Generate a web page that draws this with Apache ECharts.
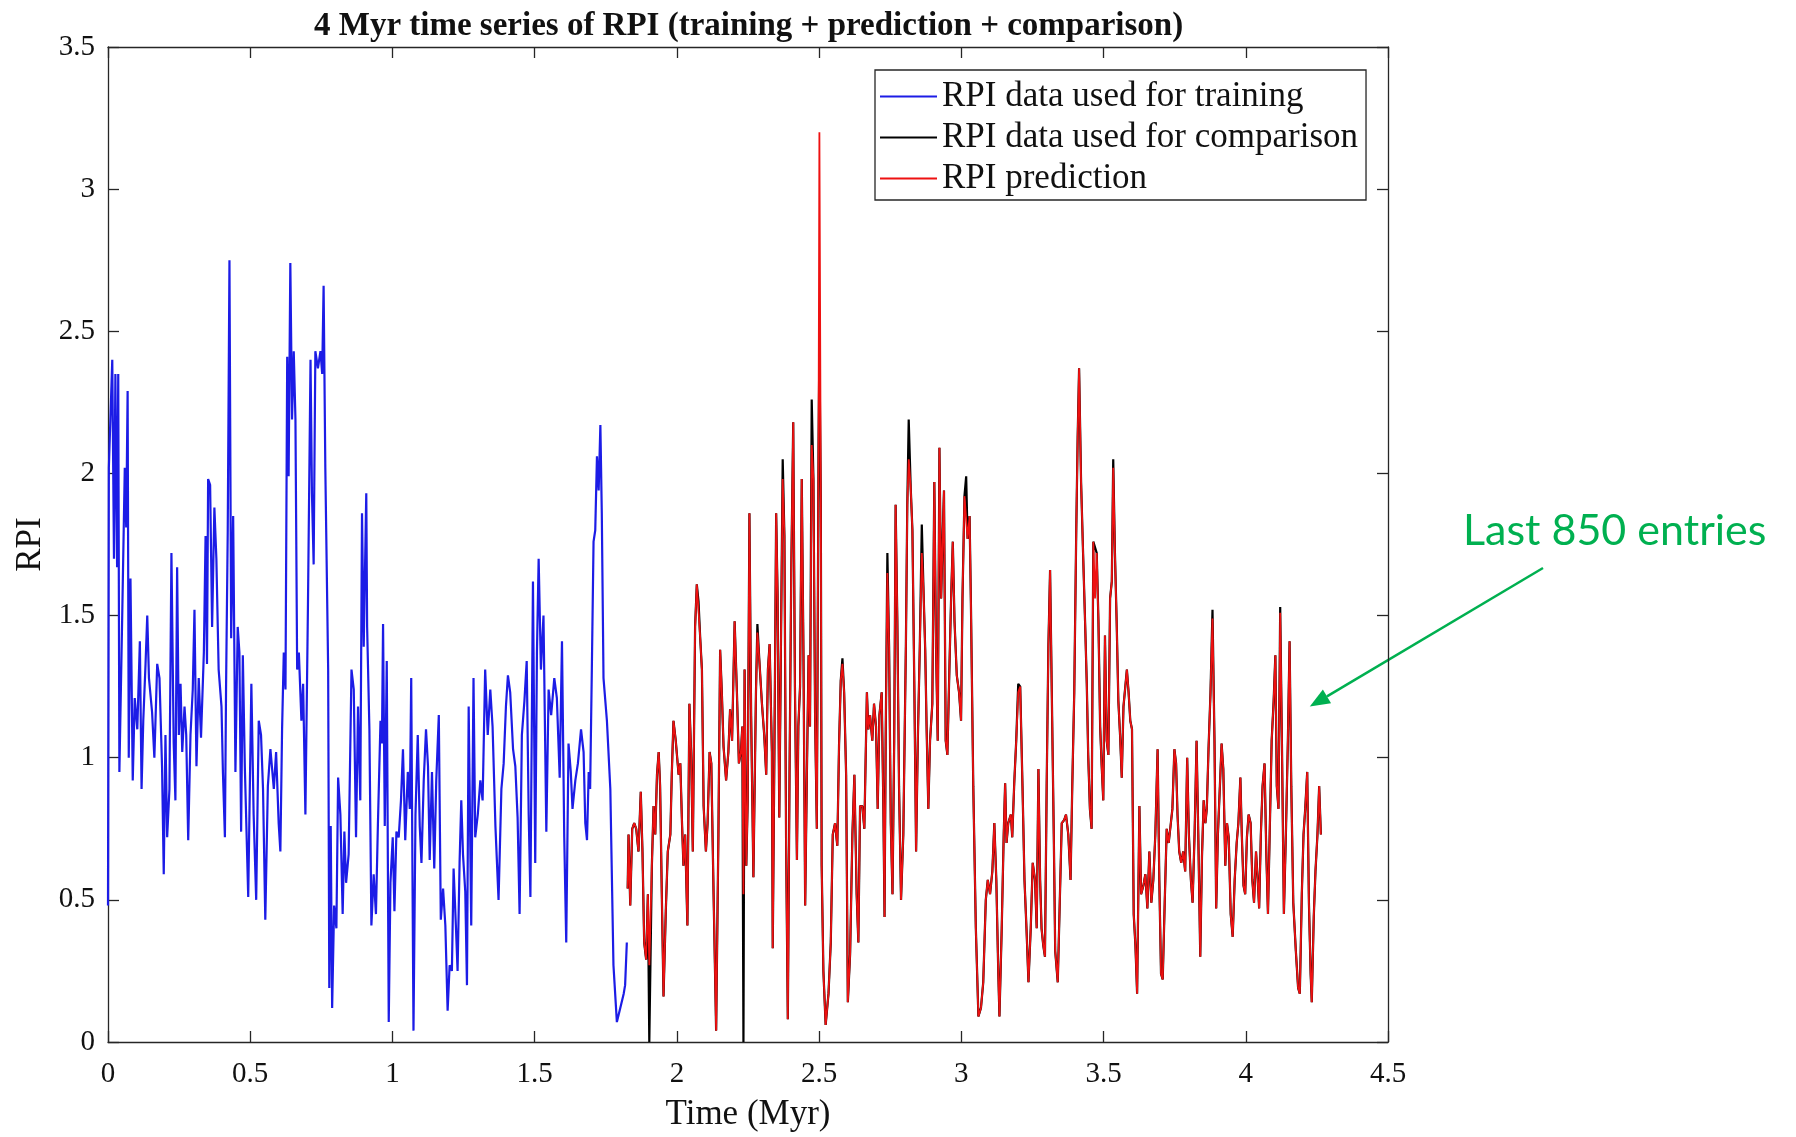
<!DOCTYPE html>
<html>
<head>
<meta charset="utf-8">
<title>4 Myr time series of RPI</title>
<script src="https://cdn.jsdelivr.net/npm/echarts@6.0.0/dist/echarts.min.js"></script>
<style>
  html, body { margin: 0; padding: 0; background: #fff; }
  #chart { width: 1796px; height: 1137px; }
</style>
</head>
<body>
<div id="chart"></div>
<script>
// axis ticks
const xTicks = [0, 0.5, 1, 1.5, 2, 2.5, 3, 3.5, 4, 4.5];
const yTicks = [0, 0.5, 1, 1.5, 2, 2.5, 3, 3.5];

const seriesNames = ['RPI data used for training', 'RPI data used for comparison', 'RPI prediction'];

// training part (blue), time in Myr
const trainTime = [
  0, 0.003, 0.015, 0.021, 0.026, 0.032, 0.036, 0.040, 0.050, 0.059,
  0.064, 0.069, 0.073, 0.079, 0.087, 0.094, 0.103, 0.112, 0.118, 0.124,
  0.132, 0.138, 0.144, 0.155, 0.163, 0.173, 0.181, 0.190, 0.196, 0.202,
  0.208, 0.216, 0.223, 0.231, 0.237, 0.243, 0.249, 0.255, 0.261, 0.269,
  0.275, 0.282, 0.290, 0.298, 0.304, 0.311, 0.319, 0.327, 0.337, 0.343,
  0.348, 0.352, 0.359, 0.366, 0.374, 0.381, 0.389, 0.399, 0.404, 0.411,
  0.415, 0.421, 0.427, 0.433, 0.440, 0.448, 0.456, 0.462, 0.468, 0.474,
  0.481, 0.493, 0.504, 0.512, 0.521, 0.530, 0.538, 0.545, 0.553, 0.562,
  0.571, 0.583, 0.591, 0.600, 0.606, 0.612, 0.618, 0.624, 0.630, 0.635,
  0.641, 0.647, 0.653, 0.659, 0.665, 0.671, 0.680, 0.686, 0.694, 0.703,
  0.712, 0.717, 0.723, 0.729, 0.738, 0.747, 0.753, 0.758, 0.764, 0.774,
  0.778, 0.783, 0.788, 0.795, 0.803, 0.809, 0.817, 0.825, 0.831, 0.837,
  0.846, 0.856, 0.864, 0.872, 0.879, 0.887, 0.893, 0.899, 0.908,
  0.911, 0.919, 0.926, 0.934, 0.942, 0.949, 0.958, 0.963, 0.967, 0.973,
  0.980, 0.987, 0.993, 1.001, 1.007, 1.014, 1.022, 1.030, 1.037, 1.045,
  1.054, 1.061, 1.066, 1.074, 1.081, 1.089, 1.096, 1.102, 1.110, 1.118,
  1.125, 1.131, 1.139, 1.147, 1.154, 1.163, 1.170, 1.178, 1.186, 1.194,
  1.201, 1.209, 1.215, 1.223, 1.229, 1.236, 1.242, 1.248, 1.256, 1.262,
  1.268, 1.277, 1.285, 1.291, 1.300, 1.309, 1.317, 1.326, 1.335, 1.344,
  1.352, 1.362, 1.373, 1.383, 1.391, 1.399, 1.406, 1.414, 1.424, 1.432,
  1.440, 1.447, 1.455, 1.464, 1.472, 1.479, 1.485, 1.494, 1.502, 1.508,
  1.514, 1.522, 1.531, 1.541, 1.549, 1.558, 1.569, 1.578, 1.588, 1.596,
  1.604, 1.611, 1.619, 1.627, 1.633, 1.643, 1.652, 1.663, 1.672, 1.678,
  1.684, 1.690, 1.695, 1.701, 1.707, 1.713, 1.719, 1.725, 1.731, 1.736,
  1.742, 1.754, 1.766, 1.777, 1.789, 1.801, 1.813, 1.818, 1.824
];
const trainRpi = [
  0.48, 2.02, 2.40, 1.70, 2.35, 1.67, 2.35, 0.95, 1.50, 2.02,
  1.81, 2.29, 1.00, 1.63, 0.92, 1.21, 1.10, 1.41, 0.89, 1.13,
  1.33, 1.50, 1.28, 1.16, 1.00, 1.33, 1.28, 0.97, 0.59, 1.08,
  0.72, 0.89, 1.72, 1.05, 0.85, 1.67, 1.08, 1.26, 1.02, 1.18,
  1.08, 0.71, 1.08, 1.24, 1.52, 0.97, 1.28, 1.07, 1.37, 1.78,
  1.33, 1.98, 1.96, 1.46, 1.88, 1.70, 1.31, 1.18, 0.95, 0.72,
  1.24, 1.80, 2.75, 1.42, 1.85, 0.95, 1.46, 1.37, 0.74, 1.36,
  0.97, 0.51, 1.26, 0.80, 0.50, 1.13, 1.08, 0.89, 0.43, 0.90,
  1.03, 0.89, 1.02, 0.77, 0.67, 1.10, 1.37, 1.24, 2.41, 1.99,
  2.74, 2.19, 2.43, 2.19, 1.31, 1.37, 1.13, 1.26, 0.80, 1.54,
  2.40, 1.93, 1.68, 2.43, 2.37, 2.43, 2.35, 2.66, 2.02, 1.31,
  0.19, 0.76, 0.12, 0.48, 0.40, 0.93, 0.80, 0.45, 0.74, 0.56,
  0.66, 1.31, 1.24, 0.72, 1.18, 0.85, 1.86, 1.39, 1.93,
  1.46, 1.10, 0.41, 0.59, 0.45, 0.77, 1.13, 1.05, 1.47, 0.76,
  1.34, 0.07, 0.56, 0.72, 0.46, 0.74, 0.72, 0.85, 1.03, 0.71,
  0.95, 0.82, 1.28, 0.04, 0.80, 1.08, 0.76, 0.63, 0.92, 1.10,
  0.97, 0.64, 0.95, 0.61, 0.92, 1.15, 0.43, 0.54, 0.41, 0.11,
  0.27, 0.25, 0.61, 0.41, 0.25, 0.63, 0.85, 0.66, 0.53, 0.20,
  1.18, 0.41, 1.28, 0.72, 0.80, 0.92, 0.85, 1.31, 1.08, 1.24,
  1.11, 0.76, 0.50, 0.89, 0.98, 1.18, 1.29, 1.23, 1.03, 0.97,
  0.79, 0.45, 1.08, 1.20, 1.34, 0.80, 0.51, 1.62, 0.63, 1.37,
  1.70, 1.31, 1.50, 0.74, 1.24, 1.15, 1.28, 1.21, 0.93, 1.41,
  0.72, 0.35, 1.05, 0.95, 0.82, 0.92, 0.98, 1.10, 1.02, 0.77,
  0.71, 0.95, 0.89, 1.31, 1.76, 1.80, 2.06, 1.94, 2.17, 1.86,
  1.28, 1.13, 0.89, 0.27, 0.07, 0.12, 0.17, 0.20, 0.35
];

// last 850 entries: measured (black) and predicted (red)
const testTime = [
  1.827, 1.830, 1.836, 1.843, 1.850, 1.857, 1.865, 1.873, 1.879, 1.885,
  1.892, 1.898, 1.903, 1.912, 1.918, 1.924, 1.930, 1.936, 1.941, 1.947,
  1.953, 1.961, 1.968, 1.977, 1.982, 1.988, 1.996, 2.006, 2.012, 2.018,
  2.023, 2.029, 2.037, 2.044, 2.050, 2.056, 2.064, 2.070, 2.076, 2.082,
  2.088, 2.094, 2.102, 2.108, 2.115, 2.121, 2.129, 2.138, 2.146, 2.152,
  2.158, 2.164, 2.173, 2.181, 2.187, 2.194, 2.203, 2.211, 2.218, 2.225,
  2.230, 2.234, 2.238, 2.244, 2.249, 2.255, 2.261, 2.269, 2.278, 2.283,
  2.290, 2.299, 2.307, 2.314, 2.320, 2.326, 2.334, 2.337, 2.343, 2.349,
  2.354, 2.360, 2.367, 2.372, 2.378, 2.384, 2.390, 2.396, 2.402, 2.409,
  2.415, 2.422, 2.427, 2.433, 2.439, 2.445, 2.451, 2.457, 2.463, 2.468,
  2.474, 2.480, 2.486, 2.492, 2.498, 2.501, 2.506, 2.509, 2.515, 2.523,
  2.533, 2.541, 2.548, 2.556, 2.564, 2.570, 2.576, 2.582, 2.588, 2.595,
  2.601, 2.609, 2.617, 2.624, 2.632, 2.638, 2.644,
  2.652, 2.659, 2.668, 2.673, 2.679, 2.687, 2.693, 2.700, 2.706, 2.712,
  2.720, 2.726, 2.730, 2.734, 2.740, 2.746, 2.752, 2.758, 2.764, 2.769,
  2.775, 2.781, 2.788, 2.796, 2.805, 2.810, 2.815, 2.822, 2.828, 2.835,
  2.841, 2.847, 2.854, 2.861, 2.867, 2.873, 2.878, 2.884, 2.890, 2.898,
  2.905, 2.911, 2.917, 2.923, 2.929, 2.935, 2.939, 2.945, 2.951, 2.958,
  2.964, 2.970, 2.976, 2.984, 2.992, 2.999, 3.004, 3.011, 3.017, 3.022,
  3.029, 3.034, 3.042, 3.051, 3.060, 3.069, 3.077, 3.086, 3.093, 3.101,
  3.109, 3.116, 3.123, 3.130, 3.134, 3.142, 3.149, 3.154, 3.159, 3.165,
  3.174, 3.179, 3.186, 3.193, 3.200, 3.207, 3.215, 3.222, 3.229, 3.236,
  3.244, 3.251, 3.259, 3.265, 3.271, 3.277, 3.282, 3.288, 3.294, 3.300,
  3.306, 3.312, 3.318, 3.325, 3.330, 3.339, 3.346, 3.353, 3.361, 3.368,
  3.376, 3.384, 3.390, 3.397, 3.404, 3.409, 3.414, 3.421, 3.428, 3.435,
  3.441, 3.446, 3.452, 3.458,
  3.464, 3.470, 3.476, 3.482, 3.488, 3.493, 3.499, 3.505, 3.511, 3.517,
  3.523, 3.529, 3.534, 3.540, 3.546, 3.552, 3.558, 3.564, 3.570, 3.577,
  3.582, 3.588, 3.594, 3.600, 3.606, 3.612, 3.618, 3.626, 3.632, 3.640,
  3.647, 3.654, 3.661, 3.668, 3.675, 3.682, 3.690, 3.696, 3.702, 3.708,
  3.715, 3.722, 3.729, 3.735, 3.742, 3.749, 3.755, 3.760, 3.766, 3.773,
  3.780, 3.787, 3.794, 3.800, 3.807, 3.813, 3.820, 3.827, 3.833, 3.840,
  3.846, 3.852, 3.858, 3.863, 3.869, 3.876, 3.883, 3.890, 3.896, 3.902,
  3.909, 3.915, 3.921, 3.928, 3.934, 3.940, 3.947, 3.954, 3.961, 3.968,
  3.974, 3.981, 3.986, 3.992, 3.998, 4.004, 4.010, 4.017, 4.023, 4.029,
  4.036, 4.042, 4.047, 4.053, 4.059, 4.066, 4.072, 4.078, 4.084, 4.091,
  4.098, 4.104, 4.109, 4.115, 4.121, 4.127, 4.134, 4.141, 4.148, 4.154,
  4.160, 4.167, 4.176, 4.184, 4.190, 4.197, 4.203, 4.209, 4.216, 4.222,
  4.228, 4.232, 4.239, 4.245, 4.252, 4.258, 4.264
];
const predictionRpi = [
  0.54, 0.73, 0.48, 0.75, 0.77, 0.75, 0.67, 0.88, 0.67, 0.35,
  0.29, 0.52, 0.27, 0.62, 0.83, 0.73, 0.94, 1.02, 0.90, 0.52,
  0.16, 0.46, 0.67, 0.73, 0.94, 1.13, 1.06, 0.94, 0.98, 0.77,
  0.62, 0.73, 0.41, 1.19, 1.02, 0.67, 1.46, 1.61, 1.52, 1.42,
  1.31, 0.83, 0.67, 0.77, 1.02, 0.98, 0.52, 0.04, 0.73, 1.38,
  1.23, 1.04, 0.92, 1.02, 1.17, 1.06, 1.48, 1.23, 0.98, 1.02,
  1.11, 0.52, 1.31, 0.62, 0.85, 1.86, 1.15, 0.58, 1.23, 1.44,
  1.34, 1.19, 1.08, 0.94, 1.31, 1.40, 1.02, 0.33, 1.04, 1.86,
  1.57, 0.79, 1.52, 1.98, 1.78, 0.69, 0.08, 0.94, 1.65, 2.18,
  1.25, 0.64, 1.11, 1.25, 1.98, 1.36, 0.48, 0.94, 1.36, 1.11,
  2.10, 1.98, 1.13, 0.75, 2.09, 3.20, 1.90, 0.62, 0.25, 0.06,
  0.17, 0.35, 0.73, 0.77, 0.69, 1.04, 1.27, 1.33, 1.23, 0.94,
  0.14, 0.31, 0.73, 0.94, 0.52, 0.35, 0.83,
  0.83, 0.75, 1.23, 1.10, 1.15, 1.06, 1.19, 1.11, 0.82, 1.15,
  1.23, 0.82, 0.44, 1.06, 1.65, 1.39, 0.77, 0.52, 1.06, 1.89,
  1.48, 0.90, 0.50, 0.73, 1.39, 1.89, 2.05, 1.95, 1.80, 1.23,
  0.67, 1.06, 1.39, 1.72, 1.59, 1.38, 1.10, 0.82, 1.06, 1.19,
  1.97, 1.39, 1.06, 2.09, 1.56, 1.80, 1.94, 1.06, 1.01, 1.31,
  1.56, 1.76, 1.48, 1.29, 1.23, 1.13, 1.56, 1.92, 1.92, 1.77,
  1.85, 1.52, 0.90, 0.40, 0.09, 0.12, 0.21, 0.50, 0.57, 0.52,
  0.60, 0.77, 0.57, 0.24, 0.09, 0.40, 0.73, 0.91, 0.70, 0.77,
  0.80, 0.72, 0.91, 1.06, 1.23, 1.25, 0.90, 0.57, 0.40, 0.21,
  0.40, 0.63, 0.57, 0.40, 0.96, 0.57, 0.40, 0.34, 0.30, 0.90,
  1.39, 1.66, 1.23, 0.73, 0.32, 0.21, 0.49, 0.77, 0.78, 0.80,
  0.73, 0.57, 0.90, 1.23, 1.80, 2.13, 2.37, 1.97, 1.72, 1.48,
  1.26, 1.01, 0.82, 0.75,
  1.76, 1.56, 1.72, 1.48, 1.11, 0.98, 0.85, 1.43, 1.06, 1.01,
  1.56, 1.62, 2.02, 1.72, 1.48, 1.20, 1.08, 0.93, 1.18, 1.18,
  1.31, 1.23, 1.13, 1.10, 0.45, 0.34, 0.17, 0.83, 0.52, 0.55,
  0.59, 0.47, 0.67, 0.49, 0.57, 0.73, 1.03, 0.57, 0.24, 0.22,
  0.49, 0.75, 0.70, 0.70, 0.82, 1.03, 0.98, 0.80, 0.67, 0.63,
  0.67, 0.60, 1.00, 0.73, 0.57, 0.49, 0.73, 1.06, 0.73, 0.30,
  0.65, 0.85, 0.77, 0.82, 1.03, 1.23, 1.49, 1.06, 0.47, 0.73,
  0.90, 1.05, 0.96, 0.62, 0.77, 0.72, 0.45, 0.37, 0.57, 0.70,
  0.77, 0.93, 0.73, 0.55, 0.52, 0.72, 0.80, 0.77, 0.57, 0.49,
  0.67, 0.57, 0.47, 0.73, 0.90, 0.98, 0.67, 0.45, 0.73, 1.06,
  1.20, 1.36, 0.90, 0.82, 1.51, 1.06, 0.45, 0.73, 1.06, 1.41,
  0.90, 0.49, 0.32, 0.19, 0.17, 0.52, 0.73, 0.82, 0.95, 0.49,
  0.24, 0.14, 0.44, 0.60, 0.73, 0.90, 0.73
];
const comparisonRpi = [
  0.54, 0.73, 0.48, 0.75, 0.77, 0.75, 0.67, 0.88, 0.67, 0.35,
  0.29, 0.52, 0.00, 0.62, 0.83, 0.73, 0.94, 1.02, 0.90, 0.52,
  0.16, 0.46, 0.67, 0.73, 0.94, 1.13, 1.06, 0.94, 0.98, 0.77,
  0.62, 0.73, 0.41, 1.19, 1.02, 0.67, 1.46, 1.61, 1.55, 1.42,
  1.31, 0.83, 0.67, 0.77, 1.02, 0.98, 0.52, 0.04, 0.73, 1.38,
  1.23, 1.04, 0.92, 1.02, 1.17, 1.06, 1.48, 1.23, 0.98, 1.02,
  1.11, 0.00, 1.31, 0.62, 0.85, 1.86, 1.15, 0.58, 1.23, 1.47,
  1.34, 1.19, 1.08, 0.94, 1.31, 1.40, 1.02, 0.33, 1.04, 1.86,
  1.57, 0.79, 1.52, 2.05, 1.78, 0.69, 0.08, 0.94, 1.65, 2.18,
  1.25, 0.64, 1.11, 1.25, 1.98, 1.36, 0.48, 0.94, 1.36, 1.11,
  2.26, 1.98, 1.13, 0.75, 2.09, 2.45, 1.90, 0.62, 0.25, 0.06,
  0.17, 0.35, 0.73, 0.77, 0.69, 1.04, 1.27, 1.35, 1.23, 0.94,
  0.14, 0.31, 0.73, 0.94, 0.52, 0.35, 0.83,
  0.83, 0.75, 1.23, 1.10, 1.15, 1.06, 1.19, 1.11, 0.82, 1.15,
  1.23, 0.82, 0.44, 1.06, 1.72, 1.39, 0.77, 0.52, 1.06, 1.89,
  1.48, 0.90, 0.50, 0.73, 1.39, 1.89, 2.19, 1.95, 1.80, 1.23,
  0.67, 1.06, 1.39, 1.82, 1.59, 1.38, 1.10, 0.82, 1.06, 1.19,
  1.97, 1.39, 1.06, 2.09, 1.56, 1.80, 1.94, 1.06, 1.01, 1.31,
  1.56, 1.76, 1.48, 1.29, 1.23, 1.13, 1.56, 1.92, 1.99, 1.77,
  1.85, 1.52, 0.90, 0.40, 0.09, 0.12, 0.21, 0.50, 0.57, 0.52,
  0.60, 0.77, 0.57, 0.24, 0.09, 0.40, 0.73, 0.91, 0.70, 0.77,
  0.80, 0.72, 0.91, 1.06, 1.26, 1.25, 0.90, 0.57, 0.40, 0.21,
  0.40, 0.63, 0.57, 0.40, 0.96, 0.57, 0.40, 0.34, 0.30, 0.90,
  1.39, 1.66, 1.23, 0.73, 0.32, 0.21, 0.49, 0.77, 0.78, 0.80,
  0.73, 0.57, 0.90, 1.23, 1.80, 2.13, 2.37, 1.97, 1.72, 1.48,
  1.26, 1.01, 0.82, 0.75,
  1.76, 1.74, 1.72, 1.48, 1.11, 0.98, 0.85, 1.43, 1.06, 1.01,
  1.56, 1.62, 2.05, 1.72, 1.48, 1.20, 1.08, 0.93, 1.18, 1.18,
  1.31, 1.23, 1.13, 1.10, 0.45, 0.34, 0.17, 0.83, 0.52, 0.55,
  0.59, 0.47, 0.67, 0.49, 0.57, 0.73, 1.03, 0.57, 0.24, 0.22,
  0.49, 0.75, 0.70, 0.70, 0.82, 1.03, 0.98, 0.80, 0.67, 0.63,
  0.67, 0.60, 1.00, 0.73, 0.57, 0.49, 0.73, 1.06, 0.73, 0.30,
  0.65, 0.85, 0.77, 0.82, 1.03, 1.23, 1.52, 1.06, 0.47, 0.73,
  0.90, 1.05, 0.96, 0.62, 0.77, 0.72, 0.45, 0.37, 0.57, 0.70,
  0.77, 0.93, 0.73, 0.55, 0.52, 0.72, 0.80, 0.77, 0.57, 0.49,
  0.67, 0.57, 0.47, 0.73, 0.90, 0.98, 0.67, 0.45, 0.73, 1.06,
  1.20, 1.36, 0.90, 0.82, 1.53, 1.06, 0.45, 0.73, 1.06, 1.41,
  0.90, 0.49, 0.32, 0.19, 0.17, 0.52, 0.73, 0.82, 0.95, 0.49,
  0.24, 0.14, 0.44, 0.60, 0.73, 0.90, 0.73
];

// annotation: text and the point (in data units) the arrow points at
const noteText = 'Last 850 entries';
const noteTarget = [4.225, 1.18];

const zip = (xs, ys) => xs.map((x, i) => [x, ys[i]]);

const axisColor = '#262626';
const serif = '"Liberation Serif", "Times New Roman", serif';

const chart = echarts.init(document.getElementById('chart'));

const frameAxis = (extra) => Object.assign({
  type: 'value',
  axisLine: { show: true, onZero: false, lineStyle: { color: axisColor, width: 1.3 } },
  axisTick: { show: true, inside: true, length: 11, lineStyle: { color: axisColor, width: 1.3 } },
  splitLine: { show: false },
  axisLabel: { show: false }
}, extra);

const xRange = { min: xTicks[0], max: xTicks[xTicks.length - 1], interval: xTicks[1] - xTicks[0] };
const yRange = { min: yTicks[0], max: yTicks[yTicks.length - 1], interval: yTicks[1] - yTicks[0] };

chart.setOption({
  animation: false,
  backgroundColor: '#fff',
  title: {
    text: '4 Myr time series of RPI (training + prediction + comparison)',
    left: 309,
    top: 5,
    textStyle: { fontFamily: serif, fontWeight: 'bold', fontSize: 33, color: '#111' }
  },
  legend: {
    data: seriesNames,
    orient: 'vertical',
    left: 875,
    top: 70,
    padding: [9, 8, 4, 5],
    icon: 'rect',
    itemWidth: 57,
    itemHeight: 2,
    itemGap: 6,
    borderColor: axisColor,
    borderWidth: 1.3,
    borderRadius: 0,
    backgroundColor: '#fff',
    textStyle: { fontFamily: serif, fontSize: 35, color: '#111' }
  },
  grid: { left: 108, top: 47, width: 1280, height: 1002 },
  xAxis: [
    frameAxis(Object.assign({
      position: 'bottom',
      name: 'Time (Myr)',
      nameLocation: 'middle',
      nameGap: 55,
      nameTextStyle: { fontFamily: serif, fontSize: 35, color: '#111' },
      axisLabel: { show: true, margin: 18, fontFamily: serif, fontSize: 29, color: '#111' }
    }, xRange)),
    frameAxis(Object.assign({ position: 'top' }, xRange))
  ],
  yAxis: [
    frameAxis(Object.assign({
      position: 'left',
      name: 'RPI',
      nameLocation: 'middle',
      nameRotate: 90,
      nameGap: 55,
      nameTextStyle: { fontFamily: serif, fontSize: 35, color: '#111' },
      axisLabel: { show: true, margin: 13, fontFamily: serif, fontSize: 29, color: '#111', padding: [4, 0, 0, 0] }
    }, yRange)),
    frameAxis(Object.assign({ position: 'right' }, yRange))
  ],
  series: [
    {
      name: seriesNames[0],
      type: 'line',
      data: zip(trainTime, trainRpi),
      symbol: 'none',
      showSymbol: false,
      lineStyle: { color: '#1c1ce6', width: 2.2 },
      itemStyle: { color: '#1c1ce6' }
    },
    {
      name: seriesNames[1],
      type: 'line',
      data: zip(testTime, comparisonRpi),
      symbol: 'none',
      showSymbol: false,
      lineStyle: { color: '#000', width: 2.2 },
      itemStyle: { color: '#000' }
    },
    {
      name: seriesNames[2],
      type: 'line',
      data: zip(testTime, predictionRpi),
      symbol: 'none',
      showSymbol: false,
      lineStyle: { color: '#ee1111', width: 1.8 },
      itemStyle: { color: '#ee1111' }
    }
  ]
});

// green annotation arrow, its head placed on the data point
const tip = chart.convertToPixel({ gridIndex: 0 }, noteTarget);
const tail = [1543, 568];
const dx = tip[0] - tail[0], dy = tip[1] - tail[1];
const len = Math.sqrt(dx * dx + dy * dy);
const ux = dx / len, uy = dy / len;
const headLen = 20, headHalf = 8;
const base = [tip[0] - ux * headLen, tip[1] - uy * headLen];
const green = '#00b050';

chart.setOption({
  graphic: [
    {
      type: 'text',
      left: 1463,
      top: 510,
      style: { text: noteText, fill: green, font: '43px Lato, "Open Sans", sans-serif' }
    },
    {
      type: 'line',
      shape: { x1: tail[0], y1: tail[1], x2: base[0], y2: base[1] },
      style: { stroke: green, lineWidth: 2.5 }
    },
    {
      type: 'polygon',
      shape: {
        points: [
          tip,
          [base[0] - uy * headHalf, base[1] + ux * headHalf],
          [base[0] + uy * headHalf, base[1] - ux * headHalf]
        ]
      },
      style: { fill: green }
    }
  ]
});
</script>
</body>
</html>
